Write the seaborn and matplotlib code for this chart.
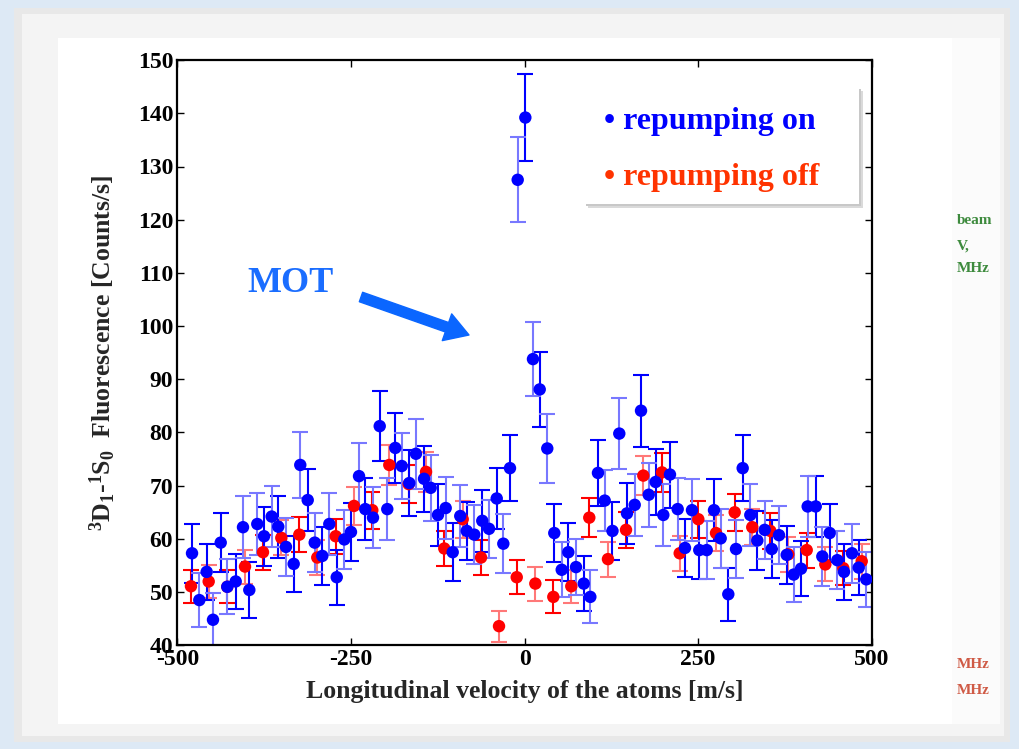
import numpy as np
import pandas as pd
import matplotlib
matplotlib.use("Agg")
import matplotlib.pyplot as plt
import seaborn as sns
from matplotlib.patches import Rectangle

# ---------------- data ----------------
blue_velocity = [-478.8, -468.3, -457.7, -448.6, -437.5, -428.0, -415.9, -405.4, -396.3, -384.8,
                 -375.1, -364.1, -354.6, -343.5, -332.4, -322.9, -312.2, -302.1, -291.2, -281.1,
                 -270.4, -259.5, -249.9, -238.3, -229.3, -218.2, -208.5, -197.6, -186.1, -176.8,
                 -165.9, -156.3, -144.7, -135.1, -124.6, -113.5, -103.4, -92.5, -83.2, -72.3,
                 -60.8, -51.1, -40.0, -30.5, -20.9, -9.8, 1.2, 12.2, 21.9, 32.8,
                 42.9, 53.6, 63.1, 74.2, 85.3, 94.8, 105.8, 115.5, 126.7, 136.5,
                 147.6, 158.7, 167.8, 178.9, 188.9, 199.9, 209.5, 220.6, 231.1, 241.2,
                 251.7, 262.4, 272.9, 282.5, 293.5, 304.6, 314.2, 325.2, 335.3, 345.9,
                 356.0, 366.5, 377.6, 387.7, 398.2, 407.8, 419.4, 428.9, 439.5, 450.5,
                 460.1, 471.6, 481.3, 492.2]
blue_counts = [57.3, 48.5, 53.8, 44.8, 59.3, 51.0, 52.0, 62.2, 50.4, 62.8,
               60.5, 64.2, 62.3, 58.5, 55.3, 73.9, 67.3, 59.3, 56.8, 62.8,
               52.8, 59.9, 61.3, 71.8, 65.6, 64.0, 81.2, 65.6, 77.1, 73.7,
               70.5, 76.0, 71.3, 69.6, 64.5, 65.8, 57.5, 64.3, 61.5, 60.8,
               63.4, 61.9, 67.6, 59.1, 73.3, 127.5, 139.2, 93.8, 88.1, 77.0,
               61.1, 54.2, 57.5, 54.7, 51.6, 49.1, 72.4, 67.2, 61.5, 79.8,
               64.8, 66.4, 84.1, 68.3, 70.7, 64.5, 72.1, 65.6, 58.3, 65.4,
               57.9, 57.9, 65.4, 60.1, 49.6, 58.1, 73.3, 64.5, 59.7, 61.7,
               58.1, 60.7, 57.0, 53.3, 54.4, 66.1, 66.1, 56.7, 61.1, 56.0,
               53.8, 57.3, 54.6, 52.4]
blue_error = [5.5, 5.0, 5.2, 5.0, 5.5, 5.2, 5.2, 5.8, 5.2, 5.8,
              5.5, 5.8, 5.8, 5.5, 5.2, 6.2, 5.8, 5.5, 5.5, 5.8,
              5.2, 5.5, 5.5, 6.2, 5.8, 5.8, 6.6, 5.8, 6.6, 6.2,
              6.2, 6.6, 6.2, 6.2, 5.8, 5.8, 5.5, 5.8, 5.5, 5.5,
              5.8, 5.5, 5.8, 5.5, 6.2, 8.0, 8.2, 7.0, 7.0, 6.4,
              5.5, 5.2, 5.5, 5.2, 5.2, 5.0, 6.2, 5.8, 5.5, 6.6,
              5.8, 5.8, 6.8, 6.0, 6.2, 5.8, 6.2, 5.8, 5.5, 5.8,
              5.5, 5.5, 5.8, 5.5, 5.0, 5.5, 6.2, 5.8, 5.5, 5.5,
              5.5, 5.5, 5.5, 5.2, 5.2, 5.8, 5.8, 5.5, 5.5, 5.5,
              5.2, 5.5, 5.2, 5.2]

red_velocity = [-480.3, -454.8, -428.0, -402.5, -376.6, -350.2, -324.3, -298.4, -271.9, -245.5,
                -219.2, -194.7, -166.8, -141.8, -115.5, -89.0, -62.6, -36.7, -11.2, 15.6,
                41.5, 67.4, 93.3, 120.2, 146.2, 171.1, 198.0, 223.5, 250.3, 275.8,
                302.7, 328.0, 354.0, 379.9, 406.4, 433.2, 459.1, 485.6]
red_counts = [51.1, 52.0, 51.0, 54.8, 57.5, 60.2, 60.8, 56.5, 60.5, 66.2,
              65.4, 73.9, 70.3, 72.6, 58.2, 63.7, 56.5, 43.6, 52.8, 51.6,
              49.1, 51.1, 64.0, 56.2, 61.7, 71.9, 72.5, 57.3, 63.7, 61.1,
              65.0, 62.2, 61.5, 57.1, 57.9, 55.2, 54.5, 55.8]
red_error = [3.1, 3.1, 3.1, 3.2, 3.3, 3.3, 3.3, 3.2, 3.3, 3.5,
             3.5, 3.7, 3.6, 3.7, 3.3, 3.5, 3.3, 2.9, 3.2, 3.2,
             3.1, 3.1, 3.6, 3.3, 3.4, 3.7, 3.7, 3.3, 3.5, 3.4,
             3.5, 3.4, 3.4, 3.3, 3.3, 3.2, 3.2, 3.3]

series_names = ["repumping on", "repumping off"]
x_ticks = [-500, -250, 0, 250, 500]
x_ticklabels = ["-500", "-250", "0", "250", "500"]
y_ticks = [40, 50, 60, 70, 80, 90, 100, 110, 120, 130, 140, 150]
y_ticklabels = [str(v) for v in y_ticks]
x_label = "Longitudinal velocity of the atoms [m/s]"
y_label = r"$^{3}\mathrm{D}_{1}$-$^{1}\mathrm{S}_{0}$  Fluorescence [Counts/s]"
annotation_text = "MOT"
side_green = ["beam", "V,", "MHz"]
side_red = ["MHz", "MHz"]

# ---------------- style ----------------
sns.set_theme(style="ticks")
plt.rcParams["font.family"] = ["Liberation Serif", "DejaVu Serif"]
plt.rcParams["font.weight"] = "bold"
plt.rcParams["mathtext.fontset"] = "custom"
plt.rcParams["mathtext.rm"] = "Liberation Serif:bold"
plt.rcParams["mathtext.it"] = "Liberation Serif:bold"
plt.rcParams["mathtext.bf"] = "Liberation Serif:bold"
plt.rcParams["mathtext.default"] = "rm"

W, H = 1019, 749
fig = plt.figure(figsize=(W / 100, H / 100), dpi=100)
fig.patch.set_facecolor("#dde9f5")


def fx(px):
    return px / W


def fy(py):
    return 1 - py / H


def frect(x0, y0, x1, y1, color, z):
    fig.patches.append(Rectangle((fx(x0), fy(y1)), fx(x1) - fx(x0), fy(y0) - fy(y1),
                                 transform=fig.transFigure, facecolor=color,
                                 edgecolor="none", zorder=z))


# slide frame
frect(14, 8, 1010, 742, "#e8e8e8", -10)
frect(22, 14, 1004, 736, "#f4f4f4", -9)
frect(58, 38, 952, 724, "#ffffff", -8)
frect(952, 38, 1000, 724, "#fbfbfb", -8)

# ---------------- axes ----------------
ax = fig.add_axes([fx(177.3), fy(645.3), fx(871.7) - fx(177.3), fy(60.1) - fy(645.3)])
ax.set_facecolor("white")

blue_dark, blue_light = "#0000ff", "#7878ff"
red_dark, red_light = "#ff0000", "#ff7878"

bx, bc, be = np.array(blue_velocity), np.array(blue_counts), np.array(blue_error)
rx, rc, re_ = np.array(red_velocity), np.array(red_counts), np.array(red_error)

for k, col in enumerate([red_dark, red_light]):
    ax.errorbar(rx[k::2], rc[k::2], yerr=re_[k::2], fmt="none", ecolor=col,
                elinewidth=1.5, capsize=5.5, capthick=1.5, zorder=2)
for k, col in enumerate([blue_dark, blue_light]):
    ax.errorbar(bx[k::2], bc[k::2], yerr=be[k::2], fmt="none", ecolor=col,
                elinewidth=1.5, capsize=5.5, capthick=1.5, zorder=2)

df = pd.concat([
    pd.DataFrame({"velocity": red_velocity, "counts": red_counts, "series": series_names[1]}),
    pd.DataFrame({"velocity": blue_velocity, "counts": blue_counts, "series": series_names[0]}),
], ignore_index=True)
sns.scatterplot(data=df, x="velocity", y="counts", hue="series",
                palette={series_names[0]: "#0000ff", series_names[1]: "#ff0000"},
                s=80, linewidth=0, legend=False, ax=ax, zorder=3)

ax.set_xlim(-500, 500)
ax.set_ylim(40, 150)
ax.set_xticks(x_ticks)
ax.set_xticklabels(x_ticklabels)
ax.set_yticks(y_ticks)
ax.set_yticklabels(y_ticklabels)
ax.tick_params(direction="in", top=True, right=True, length=5, width=1.0,
               labelsize=17, pad=3, colors="black")
for lab in ax.get_xticklabels() + ax.get_yticklabels():
    lab.set_fontweight("bold")
for sp in ax.spines.values():
    sp.set_linewidth(1.6)
    sp.set_color("black")
ax.set_xlabel(x_label, fontsize=18.5, fontweight="bold", labelpad=7)
ax.set_ylabel(y_label, fontsize=18.5, fontweight="bold", labelpad=14)

# ---------------- legend box ----------------
frect(588, 91, 863, 208, "#dadada", 5)
frect(586, 89, 861, 206, "#c8c8c8", 5)
frect(584, 87, 859, 204, "#ffffff", 6)
fig.text(fx(604), fy(121), "\u2022 " + series_names[0], color="#0000ff", fontsize=23,
         fontweight="bold", va="center", ha="left", zorder=7)
fig.text(fx(604), fy(178), "\u2022 " + series_names[1], color="#ff3300", fontsize=23,
         fontweight="bold", va="center", ha="left", zorder=7)

# ---------------- MOT annotation ----------------
fig.text(fx(247), fy(284), annotation_text, color="#1a6dff", fontsize=26,
         fontweight="bold", va="center", ha="left", zorder=7)
ax.annotate("", xy=(469, H - 335), xytext=(361, H - 297), xycoords="figure pixels",
            textcoords="figure pixels",
            arrowprops=dict(arrowstyle="simple,head_length=1.4,head_width=1.7,tail_width=0.6",
                            color="#0a66ff", shrinkA=0, shrinkB=0, mutation_scale=12),
            zorder=7)

# ---------------- side fragments ----------------
for txt, py in zip(side_green, [221, 246, 268]):
    fig.text(fx(957), fy(py), txt, color="#3d8a3d", fontsize=11, fontweight="bold",
             va="center", ha="left")
for txt, py in zip(side_red, [665, 690]):
    fig.text(fx(957), fy(py), txt, color="#cf5a45", fontsize=11, fontweight="bold",
             va="center", ha="left")

fig.savefig("out.png", dpi=100, facecolor=fig.get_facecolor())
